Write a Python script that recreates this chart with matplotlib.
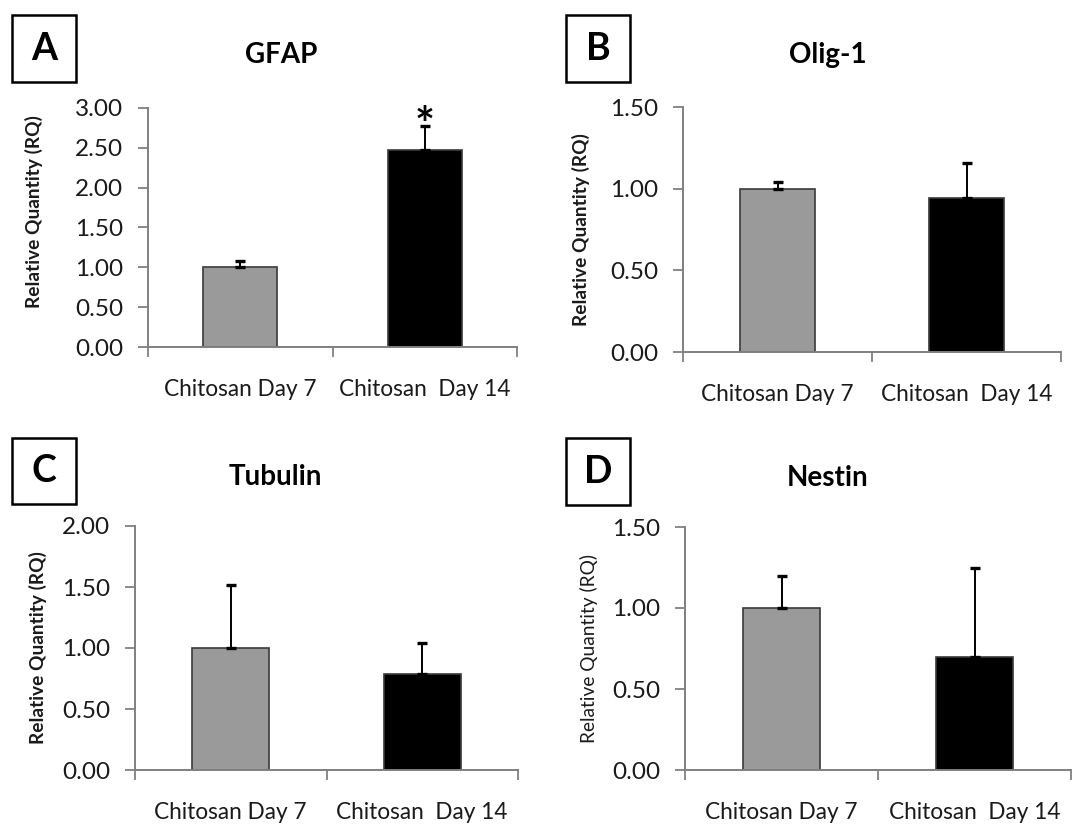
import matplotlib
matplotlib.use('Agg')
import matplotlib.pyplot as plt
from matplotlib.patches import Rectangle

plt.rcParams['font.family'] = ['Lato', 'DejaVu Sans']

# data
labels = ['Chitosan Day 7', 'Chitosan  Day 14']
gfap = [1.00, 2.47]
gfap_err = [0.08, 0.31]
olig1 = [1.00, 0.94]
olig1_err = [0.04, 0.22]
tubulin = [1.00, 0.79]
tubulin_err = [0.52, 0.25]
nestin = [1.00, 0.70]
nestin_err = [0.20, 0.55]

bar_colors = ['#9a9a9a', '#000000']
W, H = 1086, 830
AXIS_GRAY = '#808080'

fig = plt.figure(figsize=(W / 100, H / 100), dpi=100)


def px_axes(left, right, top, bottom):
    # pixel box (top-origin) -> figure axes
    return fig.add_axes([left / W, 1 - bottom / H, (right - left) / W, (bottom - top) / H])


def panel(ax, vals, errs, ymax, yticks, title, letter, title_xy, box, ylab_xy, ylab_bold=True):
    x = [0.5, 1.5]
    ax.bar(x, vals, width=0.4, color=bar_colors, edgecolor='#3a3a3a', linewidth=1.2, zorder=2)
    ax.errorbar(x, vals, yerr=[[0, 0], errs], fmt='none', ecolor='black',
                elinewidth=1.4, capsize=3.5, capthick=2.4, zorder=3)
    ax.set_xlim(0, 2)
    ax.set_ylim(0, ymax)
    ax.set_yticks(yticks)
    ax.set_yticklabels(['%.2f' % t for t in yticks], fontsize=17.5, color='#1a1a1a')
    ax.set_xticks([0, 1, 2])
    ax.set_xticklabels([])
    ax.set_xticks(x, minor=True)
    ax.set_xticklabels(labels, minor=True, fontsize=16.3, color='#1a1a1a')
    ax.tick_params(axis='x', which='minor', length=0, pad=23)
    ax.tick_params(axis='both', which='major', direction='out', length=7,
                   width=1.3, color=AXIS_GRAY)
    ax.tick_params(axis='y', pad=11)
    for s in ['top', 'right']:
        ax.spines[s].set_visible(False)
    for s in ['left', 'bottom']:
        ax.spines[s].set_color(AXIS_GRAY)
        ax.spines[s].set_linewidth(1.4)
    ax.set_ylabel('Relative Quantity (RQ)', fontsize=13.8,
                  fontweight='bold' if ylab_bold else 'normal', color='#1a1a1a')
    ax.yaxis.set_label_coords(*ylab_xy)

    fig.text(title_xy[0] / W, 1 - title_xy[1] / H, title, fontsize=20, fontweight='bold',
             ha='center', va='center')
    bx0, bx1, by0, by1 = box
    fig.patches.append(Rectangle((bx0 / W, 1 - by1 / H), (bx1 - bx0) / W, (by1 - by0) / H,
                                 transform=fig.transFigure, fill=False,
                                 edgecolor='black', linewidth=1.8))
    fig.text((bx0 + bx1) / 2 / W, 1 - (by0 + by1) / 2 / H, letter, fontsize=27,
             fontweight='bold', ha='center', va='center')
    return ax


axA = px_axes(148, 517, 108, 347)
panel(axA, gfap, gfap_err, 3.0, [0, 0.5, 1.0, 1.5, 2.0, 2.5, 3.0], 'GFAP', 'A',
      (281, 55), (12, 76, 15, 82), (-0.285, 0.565))
# significance mark above the Day 14 bar
axA.text(1.5, 2.59, '*', ha='center', va='baseline', fontsize=34, fontweight='bold',
         clip_on=False, zorder=4)

axB = px_axes(683, 1061, 107, 352)
panel(axB, olig1, olig1_err, 1.5, [0, 0.5, 1.0, 1.5], 'Olig-1', 'B',
      (828, 55), (566, 630, 15, 82), (-0.246, 0.5))

axC = px_axes(135, 518, 526, 770)
panel(axC, tubulin, tubulin_err, 2.0, [0, 0.5, 1.0, 1.5, 2.0], 'Tubulin', 'C',
      (275, 477), (12, 76, 438, 504), (-0.23, 0.5))

axD = px_axes(685, 1071, 527, 770)
panel(axD, nestin, nestin_err, 1.5, [0, 0.5, 1.0, 1.5], 'Nestin', 'D',
      (828, 478), (566, 630, 438, 505), (-0.225, 0.5), ylab_bold=False)

fig.savefig('out.png', dpi=100)
